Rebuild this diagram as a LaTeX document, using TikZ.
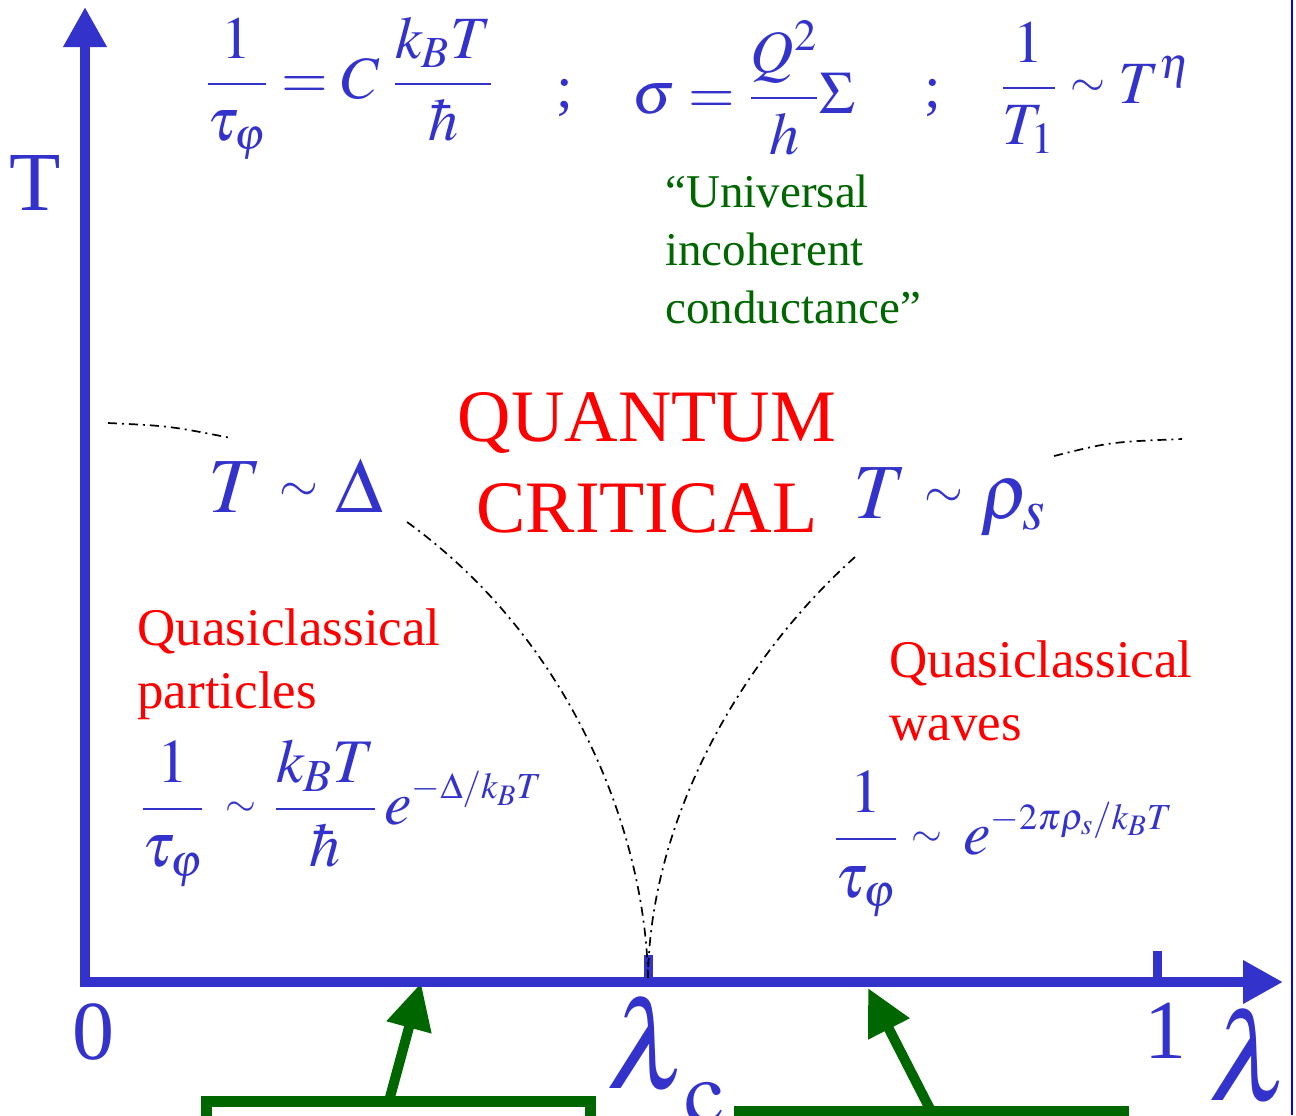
\documentclass[tikz,border=0pt]{standalone}
\usepackage{mathptmx}
\usepackage{fontspec}
\setmainfont{Liberation Serif}
\usepackage{tikz}
\usetikzlibrary{arrows.meta,positioning}
\definecolor{axisblue} {RGB}{51,51,204}
\definecolor{regionred}{RGB}{255,0,0}
\definecolor{notegreen}{RGB}{0,102,0}
\definecolor{edgeblue} {RGB}{0,0,255}
\newcommand\fs[2]{\fontsize{#1}{#2}\selectfont}
% small tilde and small exponent, as in the slide
\newcommand\tld[1][0.64]{\mathrel{\vcenter{\hbox{\scalebox{#1}{$\sim$}}}}}
\newcommand\sexp[1]{\scalebox{0.8}{$\scriptstyle#1$}}
\tikzset{
  axisline/.style ={draw=axisblue, line width=5pt,
                    -{Triangle[length=20pt,width=20.5pt]}},
  tickmark/.style ={draw=axisblue, line width=4.5pt},
  crossover/.style={draw=black, line width=0.85pt,
                    dash pattern=on 4.5pt off 2.5pt on 1pt off 2.5pt},
  pointer/.style  ={draw=notegreen, line width=5pt,
                    -{Triangle[length=23pt,width=22pt]}},
  tagbox/.style   ={draw=notegreen, line width=5.5pt, outer sep=0pt,
                    minimum width=192pt, minimum height=50pt},
  mathlbl/.style  ={text=axisblue, inner sep=0pt, font=\fs{#1}{#1}},
  regionlbl/.style={text=regionred, inner sep=0pt, align=#1},
  notelbl/.style  ={text=notegreen, inner sep=0pt, align=left,
                    font=\fs{23.5}{29}},
}

\begin{document}
\begin{tikzpicture}[x=0.5pt,y=-0.5pt]
  \clip (0,0) rectangle (1296,1115);
  %% frame edge on the right
  \draw[edgeblue, line width=1pt] (1292,0) -- (1292,1115);

  %% boxes at the bottom with pointers to the axis
  \node[tagbox] (lbox) at (398,1151) {};
  \node[tagbox] (rbox) at (931,1161) {};
  \coordinate (pl) at (421,983);
  \coordinate (pr) at (868,988);
  \draw[pointer] ([xshift=-4.5pt]lbox.north) -- (pl);
  \draw[pointer] (rbox.north) -- (pr);

  %% axes
  \coordinate (O) at (85,982);
  \coordinate (qcp) at (648,978);
  \draw[axisline] (80,982) -- (1283,982);
  \draw[axisline] (85,987) -- (85,7);
  \draw[tickmark] (qcp) -- (648,955);
  \draw[tickmark] (1157,978) -- (1157,951);
  \node[mathlbl=42, anchor=base] (Tlab) at (35,210) {T};
  \node[mathlbl=42, anchor=base] (zero) at (93,1059) {0};
  \node[mathlbl=42, anchor=base] (one)  at (1165,1058) {1};
  \node[mathlbl=62, anchor=base west] (lamc) at (606,1088)
    {$\lambda_{\kern5pt\raisebox{-9pt}{$\scriptstyle\mathrm{c}$}}$};
  \node[mathlbl=62, anchor=base west] (lam)  at (1208,1100) {$\lambda$};

  %% crossover lines
  \draw[crossover] (407,522) .. controls (570,640) and (645,830) .. (qcp);
  \draw[crossover] (855,557) .. controls (740,660) and (650,820) .. (qcp);
  \draw[crossover] (108,423) .. controls (170,426) .. (231,438);
  \draw[crossover] (1054,456) .. controls (1110,442) .. (1182,439);

  %% formulas at the top
  \node[mathlbl=30, anchor=west] (rate) at (205,88)
    {$\displaystyle\frac{1}{\tau_\varphi}=C\;\frac{k_BT}{\hbar}$};
  \node[mathlbl=30] (semiA) at (565,98) {;};
  \node[mathlbl=30, anchor=west] (cond) at (632,88)
    {$\displaystyle\sigma=\frac{Q^2}{h}\Sigma$};
  \node[mathlbl=30] (semiB) at (933,98) {;};
  \node[mathlbl=30, anchor=west] (nmr) at (1000,88)
    {$\displaystyle\frac{1}{T_1}\tld[0.75]T^\eta$};
  \node[notelbl, anchor=base west] (univ) at (665,323)
    {“Universal\\incoherent\\conductance”};

  %% regions
  \node[regionlbl=center, font=\fs{37}{45.5}, anchor=base] (qc) at (647,532)
    {QUANTUM\\CRITICAL};
  \node[mathlbl=39, anchor=base west] (gapT) at (208,512) {$T\tld\Delta$};
  \node[mathlbl=39, anchor=base west] (stiffT) at (853,518) {$T\tld\rho_s$};
  \node[regionlbl=left, font=\fs{26.5}{31.5}, anchor=base west] (qpart) at (137,708)
    {Quasiclassical\\particles};
  \node[regionlbl=left, font=\fs{26.5}{31.5}, anchor=base west] (qwave) at (889,740)
    {Quasiclassical\\waves};
  \node[mathlbl=31, anchor=west] (lowL) at (140,813)
    {$\displaystyle\frac{1}{\tau_\varphi}\,\tld\mkern1mu\frac{k_BT}{\hbar}\,e^{\sexp{-\Delta/k_BT}}$};
  \node[mathlbl=31, anchor=west] (lowR) at (833,844)
    {$\displaystyle\frac{1}{\tau_\varphi}\tld\,e^{\sexp{-2\pi\rho_s/k_BT}}$};
\end{tikzpicture}
\end{document}
